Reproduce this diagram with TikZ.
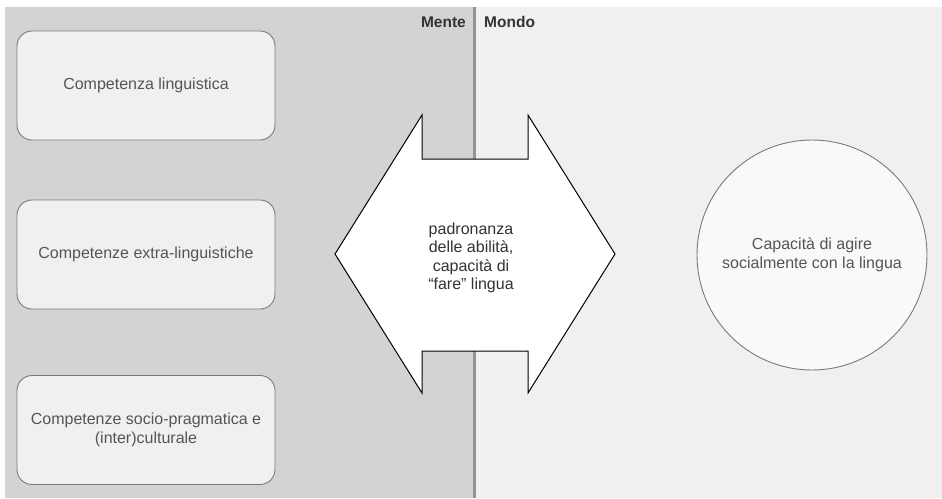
\documentclass[tikz,border=0pt]{standalone}
\usepackage{fontspec}
\setmainfont{Liberation Sans}
\definecolor{leftbg}{HTML}{D3D3D3}
\definecolor{rightbg}{HTML}{F0F0F0}
\definecolor{divider}{HTML}{8F939A}
\definecolor{boxline}{HTML}{7A7A7A}
\definecolor{txt}{HTML}{555555}
\definecolor{dtxt}{HTML}{333333}
\begin{document}
\begin{tikzpicture}[x=1pt,y=-1pt,
  compbox/.style={draw=boxline, line width=0.9pt, fill=rightbg, rounded corners=15pt,
    minimum width=258pt, minimum height=109pt, inner sep=2pt, align=center,
    text=txt, font=\fontsize{16}{19}\selectfont},
  headlbl/.style={text=dtxt, font=\bfseries\fontsize{15.5}{18}\selectfont, inner sep=0pt}]
\useasboundingbox (0,0) rectangle (942,498);
\fill[white] (0,0) rectangle (942,498);
\fill[leftbg] (5,7) rectangle (474.5,498);
\fill[rightbg] (474.5,7) rectangle (942,498);
\draw[divider, line width=2.5pt] (474.7,7) -- (474.7,498);
\node[headlbl, anchor=base east] (mente) at (466,27) {Mente};
\node[headlbl, anchor=base west] (mondo) at (484,27) {Mondo};
\node[compbox] (b1) at (146,85.5) {Competenza linguistica};
\node[compbox] (b2) at (146,254.5) {Competenze extra-linguistiche};
\node[compbox] (b3) at (146,430) {Competenze socio-pragmatica e\\(inter)culturale};
\draw[black, line width=1pt, fill=white, line join=miter]
  (335,254) -- (422,115) -- (422,159) -- (528,159) -- (528,115) -- (615,254)
  -- (528,393) -- (528,351) -- (422,351) -- (422,393) -- cycle;
\node[align=center, text=dtxt, font=\fontsize{16}{18.3}\selectfont] (arr) at (471,258)
  {padronanza\\delle abilità,\\capacità di\\“fare” lingua};
\node[circle, draw=boxline, line width=0.9pt, fill=white!60!rightbg, minimum size=230pt,
  align=center, text=txt, font=\fontsize{16}{19}\selectfont] (cap) at (812,255)
  {Capacità di agire\\socialmente con la lingua};
\end{tikzpicture}
\end{document}
